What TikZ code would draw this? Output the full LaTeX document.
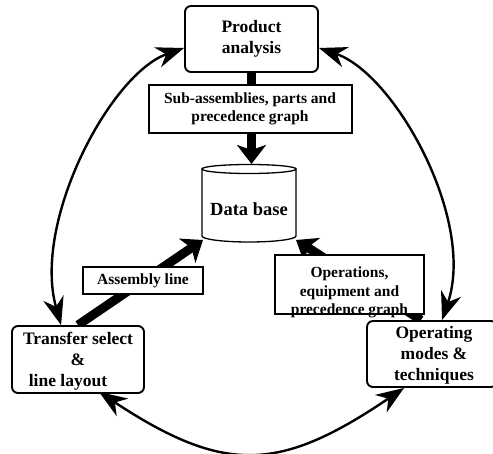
\documentclass[tikz,border=0pt]{standalone}
\usepackage{fontspec}
\setmainfont{Liberation Serif}
\usetikzlibrary{arrows.meta,calc}
\pgfdeclarelayer{bg}
\pgfsetlayers{bg,main}
\begin{document}
\begin{tikzpicture}[x=1pt,y=-1pt,
  mainbox/.style={draw, line width=1.9pt, rounded corners=6pt, fill=white, inner sep=0pt},
  labelbox/.style={draw, line width=1.2pt, fill=white, inner sep=0pt},
  bigtext/.style={font=\fontsize{17.5}{21}\selectfont\bfseries, align=center, inner sep=0pt},
  smalltext/.style={font=\fontsize{15.5}{18.5}\selectfont\bfseries, align=center, inner sep=0pt},
  bigarrow/.style={line width=9pt, -{Stealth[length=19pt,width=29pt,inset=5pt]}},
  curvearrow/.style={line width=2.4pt, {Stealth[length=28pt,width=21pt,inset=9pt]}-{Stealth[length=28pt,width=21pt,inset=9pt]}}]
\useasboundingbox (0,0) rectangle (493,454);

% boxes
\node[mainbox, minimum width=133pt, minimum height=66pt] (pa) at (251.5,39) {};
\node[bigtext] (patext) at (251.5,39) {Product\\analysis};

\node[mainbox, minimum width=132pt, minimum height=67pt] (tr) at (78,359.5) {};
\node[bigtext] (trtext) at (78,361) {Transfer select\\\&\\line layout\kern20pt};

\node[mainbox, minimum width=130pt, minimum height=66pt] (om) at (432,354) {};
\node[bigtext] (omtext) at (434,355) {Operating\\modes \&\\techniques};

% data base cylinder
\draw[line width=1.3pt, fill=white] (202,169) -- (202,236)
  arc[start angle=180, end angle=360, x radius=47pt, y radius=6pt] -- (296,169) -- cycle;
\draw[line width=1.3pt, fill=white] (249,169) ellipse [x radius=47pt, y radius=4.5pt];
\node[bigtext, font=\fontsize{18.5}{22}\selectfont\bfseries] (db) at (249,209) {Data base};
\coordinate (dbtop) at (249,164);
\coordinate (dbbl) at (203,240);
\coordinate (dbbr) at (296,240);

% label boxes
\node[labelbox, minimum width=203pt, minimum height=48pt] (sub) at (250.5,109) {};
\node[smalltext] (subtext) at (250,109) {Sub-assemblies, parts and\\precedence graph};

\node[labelbox, minimum width=120pt, minimum height=27pt] (asm) at (143,280.5) {};
\node[smalltext] (asmtext) at (143,280.5) {Assembly line};

\node[labelbox, minimum width=149pt, minimum height=59pt] (ops) at (349.5,284.5) {};
\node[smalltext] (opstext) at (349.5,292.5) {Operations,\\equipment and\\precedence graph};

\begin{pgfonlayer}{bg}
  \draw[bigarrow] (pa.south) -- (pa.south |- dbtop);
  \draw[bigarrow] (tr.north) -- (dbbl);
  \draw[bigarrow] ($(om.north west)+(55,0)$) -- (dbbr);

  \draw[curvearrow] ($(tr.north west)+(50,0)$) .. controls (32,222) and (110,74) .. ($(pa.west)+(0,9)$);
  \draw[curvearrow] ($(om.north west)+(76,0)$) .. controls (476,220) and (395,74) .. ($(pa.east)+(0,9)$);
  \draw[curvearrow] ($(tr.south west)+(88,-2)$) .. controls (225,475) and (280,472) .. ($(om.south west)+(38,0)$);
\end{pgfonlayer}
\end{tikzpicture}
\end{document}
